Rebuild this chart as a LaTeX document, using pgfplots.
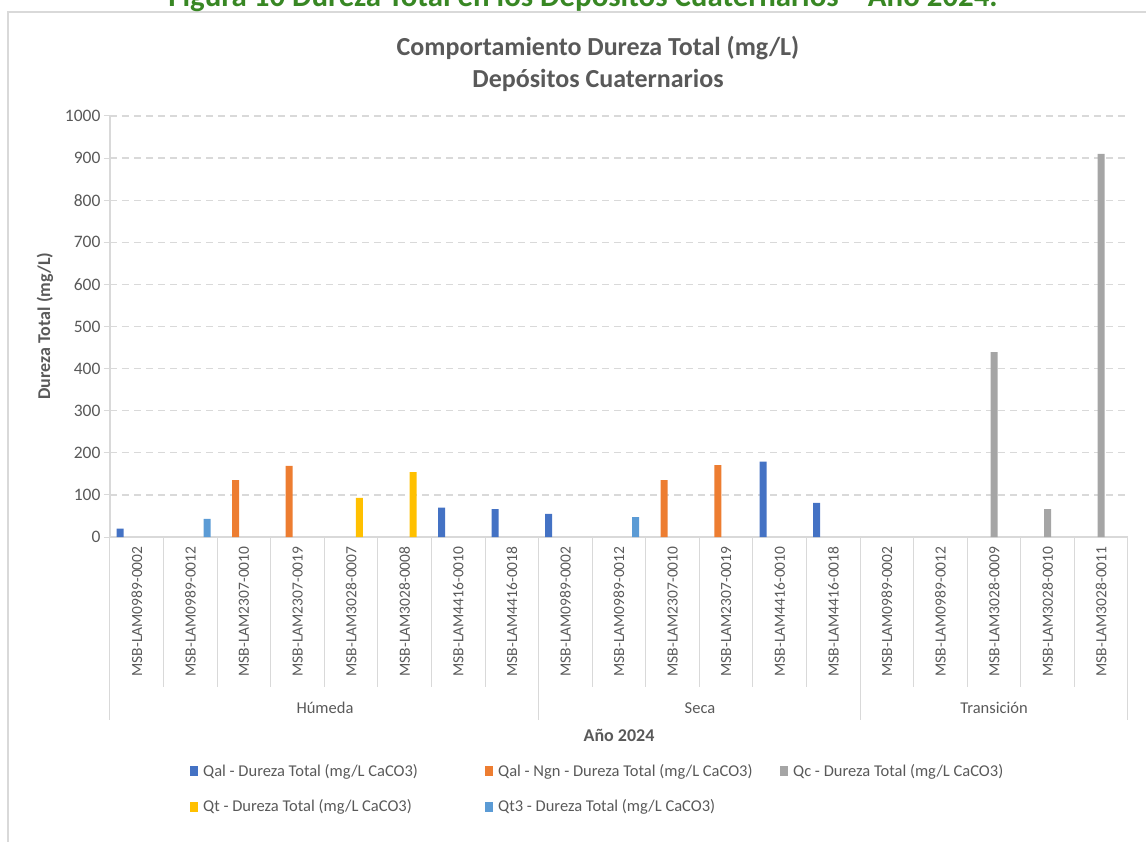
\documentclass[border=0pt]{standalone}
\usepackage{fontspec}
\setmainfont{Carlito}
\usepackage{pgfplots}
\pgfplotsset{compat=1.18}

\definecolor{qal}{HTML}{4472C4}
\definecolor{ngn}{HTML}{ED7D31}
\definecolor{qc}{HTML}{A5A5A5}
\definecolor{qt}{HTML}{FFC000}
\definecolor{qtt}{HTML}{5B9BD5}
\definecolor{txt}{HTML}{595959}
\definecolor{lin}{HTML}{D9D9D9}
\definecolor{fig}{RGB}{56,135,36}

\begin{document}
\begin{tikzpicture}[x=1pt,y=1pt]
\useasboundingbox (0,0) rectangle (1146,841);
\draw[lin, line width=1.5pt] (8,-20) rectangle (1220,829);
\node[anchor=base, text=fig, font=\bfseries, inner sep=0pt] at (583,834)
  {\resizebox{829pt}{!}{Figura 10 Dureza Total en los Depósitos Cuaternarios – Año 2024.}};

\node[anchor=base, text=txt, font=\fontsize{26}{31}\selectfont\bfseries] at (598,785) {Comportamiento Dureza Total (mg/L)};
\node[anchor=base, text=txt, font=\fontsize{26}{31}\selectfont\bfseries] at (598,753) {Depósitos Cuaternarios};

\begin{axis}[
    at={(110pt,304pt)}, anchor=south west,
    width=1018pt, height=421pt, scale only axis,
    xmin=-0.5, xmax=18.5, ymin=0, ymax=1000,
    ybar, bar width=7pt,
    clip=false,
    axis x line*=bottom, axis y line*=left,
    axis line style={lin, line width=1.2pt},
    ytick={0,100,...,1000},
    ymajorgrids,
    grid style={lin, line width=1.3pt, dash pattern=on 7pt off 5pt},
    ytick style={lin, line width=1pt},
    tick align=outside, major tick length=6pt,
    xtick={0,...,18},
    xtick style={draw=none},
    xticklabels={MSB-LAM0989-0002,MSB-LAM0989-0012,MSB-LAM2307-0010,MSB-LAM2307-0019,MSB-LAM3028-0007,MSB-LAM3028-0008,MSB-LAM4416-0010,MSB-LAM4416-0018,
                 MSB-LAM0989-0002,MSB-LAM0989-0012,MSB-LAM2307-0010,MSB-LAM2307-0019,MSB-LAM4416-0010,MSB-LAM4416-0018,
                 MSB-LAM0989-0002,MSB-LAM0989-0012,MSB-LAM3028-0009,MSB-LAM3028-0010,MSB-LAM3028-0011},
    xticklabel style={rotate=90, anchor=east, font=\fontsize{15.5}{18}\selectfont, text=txt},
    yticklabel style={font=\fontsize{17.5}{20}\selectfont, text=txt},
    /pgf/number format/assume math mode=true,
    /pgf/number format/1000 sep={},
    legend columns=3,
    legend style={at={(axis description cs:0.0756,-0.5297)}, anchor=north west,
        draw=none, fill=none, font=\fontsize{16.5}{20}\selectfont, text=txt,
        row sep=18pt, nodes={inner sep=2pt},
        /tikz/every odd column/.append style={column sep=3pt}},
    legend image code/.code={\fill[#1,draw=none] (0pt,-5pt) rectangle (8pt,5pt);},
]
\addplot[fill=qal, draw=none, bar shift=-16.7pt] coordinates {(0,20) (6,70) (7,66) (8,55) (12,179) (13,81)};
\addlegendentry{\makebox[280pt][l]{Qal - Dureza Total (mg/L CaCO3)}}
\addplot[fill=ngn, draw=none, bar shift=-8.35pt] coordinates {(2,135) (3,169) (10,135) (11,171)};
\addlegendentry{\makebox[280pt][l]{Qal - Ngn - Dureza Total (mg/L CaCO3)}}
\addplot[fill=qc, draw=none, bar shift=0pt] coordinates {(16,439) (17,66) (18,910)};
\addlegendentry{\makebox[280pt][l]{Qc - Dureza Total (mg/L CaCO3)}}
\addplot[fill=qt, draw=none, bar shift=8.35pt] coordinates {(4,93) (5,154)};
\addlegendentry{\makebox[280pt][l]{Qt - Dureza Total (mg/L CaCO3)}}
\addplot[fill=qtt, draw=none, bar shift=16.7pt] coordinates {(1,43) (9,47)};
\addlegendentry{\makebox[280pt][l]{Qt3 - Dureza Total (mg/L CaCO3)}}

% category separators and group separators
\pgfplotsinvokeforeach{-0.5,0.5,...,18.5}{\draw[lin, line width=1pt] (axis cs:#1,0) -- ++(0pt,-150pt);}
\pgfplotsinvokeforeach{-0.5,7.5,13.5,18.5}{\draw[lin, line width=1pt] (axis cs:#1,0) -- ++(0pt,-183pt);}
\end{axis}

\node[text=txt, font=\fontsize{16.5}{20}\selectfont] at (325,133) {Húmeda};
\node[text=txt, font=\fontsize{16.5}{20}\selectfont] at (700,133) {Seca};
\node[text=txt, font=\fontsize{16.5}{20}\selectfont] at (994,133) {Transición};
\node[text=txt, font=\fontsize{18}{22}\selectfont\bfseries] at (619,106) {Año 2024};
\node[rotate=90, text=txt, font=\fontsize{18}{22}\selectfont\bfseries] at (45,515) {Dureza Total (mg/L)};
\end{tikzpicture}
\end{document}
